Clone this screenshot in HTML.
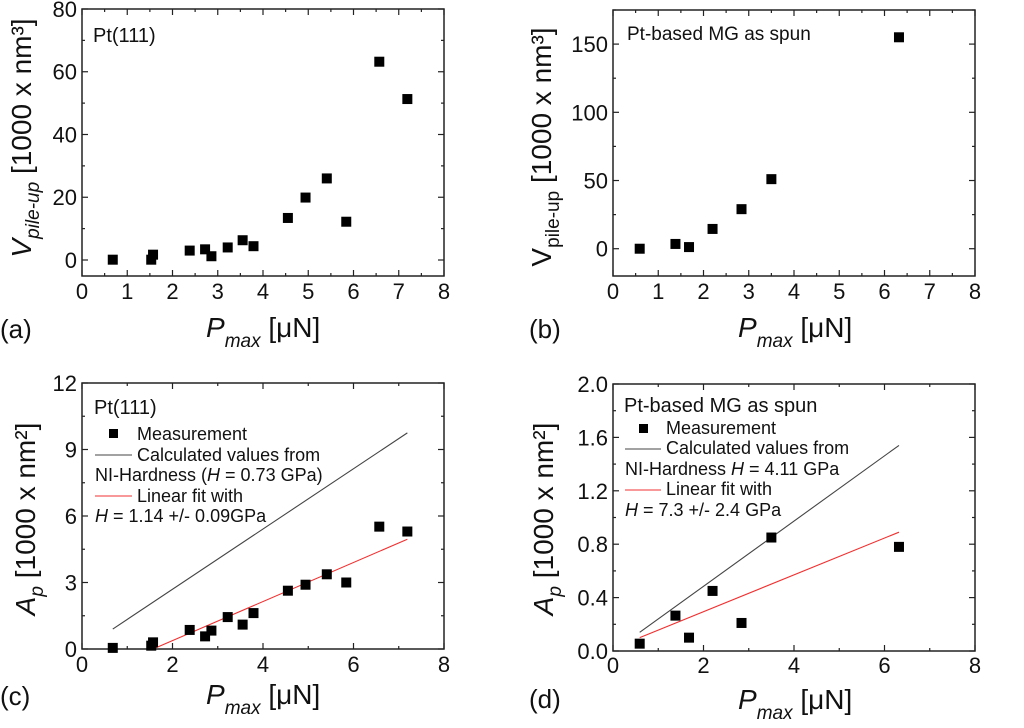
<!DOCTYPE html>
<html><head><meta charset="utf-8"><style>
body{margin:0;background:#fff}
svg{display:block;font-family:"Liberation Sans",sans-serif}
</style></head><body>
<svg id="s" width="1024" height="728" viewBox="0 0 1024 728"></svg>
<script>
// ---------- data ----------
const aX=[0.68,1.53,1.57,2.38,2.72,2.86,3.22,3.55,3.79,4.55,4.94,5.41,5.84,6.57,7.19];
const aY=[0.1,0.1,1.7,3.0,3.4,1.2,4.0,6.3,4.4,13.4,19.9,26.0,12.2,63.2,51.3];
const bX=[0.59,1.38,1.68,2.2,2.84,3.5,6.32];
const bY=[0,3.5,1.2,14.5,29,51,155];
const cX=[0.68,1.53,1.57,2.38,2.72,2.86,3.22,3.55,3.79,4.55,4.94,5.41,5.84,6.57,7.19];
const cY=[0.05,0.15,0.3,0.86,0.57,0.83,1.44,1.1,1.62,2.63,2.9,3.37,3.0,5.52,5.3];
const cCalcX=[0.68,7.19], cCalcY=[0.9,9.75];
const cFitX=[1.57,7.19], cFitY=[0,4.95];
const dX=[0.59,1.38,1.68,2.2,2.84,3.5,6.32];
const dY=[0.055,0.265,0.1,0.45,0.21,0.85,0.78];
const dCalcX=[0.59,6.32], dCalcY=[0.14,1.54];
const dFitX=[0.59,6.32], dFitY=[0.10,0.89];
const aTicksY=["0","20","40","60","80"], bTicksY=["0","50","100","150"];
const cTicksY=["0","3","6","9","12"], dTicksY=["0.0","0.4","0.8","1.2","1.6","2.0"];
const abTicksX=["0","1","2","3","4","5","6","7","8"], cdTicksX=["0","2","4","6","8"];

const NS="http://www.w3.org/2000/svg", S=document.getElementById('s');
function el(t,a,p){const e=document.createElementNS(NS,t);for(const k in a)e.setAttribute(k,a[k]);(p||S).appendChild(e);return e;}

function panel(o){
  const g=el('g',{});
  
  
  const sx=v=>o.L+(v-o.x0)/(o.x1-o.x0)*(o.R-o.L);
  const sy=v=>o.B-(v-o.y0)/(o.y1-o.y0)*(o.B-o.T);
  const fr=el('rect',{x:o.L,y:o.T,width:o.R-o.L,height:o.B-o.T,fill:'none',stroke:'#222','stroke-width':1.5},g);
  
  
  for(let v=o.x0;v<=o.x1+1e-9;v+=o.xm){
    const x=sx(v), maj=Math.abs(Math.round(v/o.xM)*o.xM-v)<1e-6, l=maj?6:3;
    el('line',{x1:x,x2:x,y1:o.B,y2:o.B-l,stroke:'#222','stroke-width':1.2},g);
    el('line',{x1:x,x2:x,y1:o.T,y2:o.T+l,stroke:'#222','stroke-width':1.2},g);
  }
  o.xt.forEach((t,i)=>{const v=o.x0+i*o.xM;
    const e=el('text',{x:sx(v),y:o.xtb,'font-size':22,'text-anchor':'middle',fill:'#111'},g);e.textContent=t;
    
    });
  for(let v=o.ys;v<=o.y1+1e-9;v+=o.ym){
    const y=sy(v), maj=Math.abs(Math.round((v-o.ys)/o.yM)*o.yM-(v-o.ys))<1e-6, l=maj?6:3;
    el('line',{x1:o.L,x2:o.L+l,y1:y,y2:y,stroke:'#222','stroke-width':1.2},g);
    el('line',{x1:o.R,x2:o.R-l,y1:y,y2:y,stroke:'#222','stroke-width':1.2},g);
  }
  o.yt.forEach((t,i)=>{const v=o.ys+i*o.yM;
    const e=el('text',{x:o.L-5,y:sy(v)+8,'font-size':22,'text-anchor':'end',fill:'#111'},g);e.textContent=t;
    
    });
  if(o.calcX){const l=el('line',{x1:sx(o.calcX[0]),y1:sy(o.calcY[0]),x2:sx(o.calcX[1]),y2:sy(o.calcY[1]),stroke:'#444','stroke-width':1.1},g);
    
    }
  if(o.fitX){const l=el('line',{x1:sx(o.fitX[0]),y1:sy(o.fitY[0]),x2:sx(o.fitX[1]),y2:sy(o.fitY[1]),stroke:'#f03030','stroke-width':1.1},g);
    
    }
  o.X.forEach((v,i)=>{const r=el('rect',{x:sx(v)-5,y:sy(o.Y[i])-5,width:10,height:10,fill:'#000'},g);
    
    });
}
panel({name:'panel-a',L:82,R:444,T:9,B:276,x0:0,x1:8,xM:1,xm:0.5,y0:-5.1,y1:80,ys:0,yM:20,ym:10,xt:abTicksX,yt:aTicksY,xtb:299,X:aX,Y:aY});
panel({name:'panel-b',L:613,R:975,T:10,B:276,x0:0,x1:8,xM:1,xm:0.5,y0:-20,y1:175,ys:0,yM:50,ym:25,xt:abTicksX,yt:bTicksY,xtb:299,X:bX,Y:bY});
panel({name:'panel-c',L:82,R:444,T:383,B:649,x0:0,x1:8,xM:2,xm:1,y0:0,y1:12,ys:0,yM:3,ym:1.5,xt:cdTicksX,yt:cTicksY,xtb:672,X:cX,Y:cY,calcX:cCalcX,calcY:cCalcY,fitX:cFitX,fitY:cFitY});
panel({name:'panel-d',L:613,R:975,T:384,B:651,x0:0,x1:8,xM:2,xm:1,y0:0,y1:2,ys:0,yM:0.4,ym:0.2,xt:cdTicksX,yt:dTicksY,xtb:673,X:dX,Y:dY,calcX:dCalcX,calcY:dCalcY,fitX:dFitX,fitY:dFitY});
</script>
<svg width="1024" height="728" style="position:absolute;left:0;top:0;font-family:'Liberation Sans',sans-serif">
<g fill="#111">
<text x="93" y="42" font-size="20">Pt(111)</text>
<text x="627" y="40" font-size="19">Pt-based MG as spun</text>
<text x="0" y="338" font-size="26">(a)</text>
<text x="529" y="338" font-size="26">(b)</text>
<text x="0" y="705" font-size="26">(c)</text>
<text x="529" y="708" font-size="26">(d)</text>
<text x="206" y="337" font-size="28"><tspan font-style="italic">P</tspan><tspan font-style="italic" font-size="19" dy="10">max</tspan><tspan dy="-10"> [μN]</tspan></text>
<text x="738" y="337" font-size="28"><tspan font-style="italic">P</tspan><tspan font-style="italic" font-size="19" dy="10">max</tspan><tspan dy="-10"> [μN]</tspan></text>
<text x="206" y="704" font-size="28"><tspan font-style="italic">P</tspan><tspan font-style="italic" font-size="19" dy="10">max</tspan><tspan dy="-10"> [μN]</tspan></text>
<text x="738" y="709" font-size="28"><tspan font-style="italic">P</tspan><tspan font-style="italic" font-size="19" dy="10">max</tspan><tspan dy="-10"> [μN]</tspan></text>
<text transform="translate(31,138) rotate(-90)" text-anchor="middle" font-size="28"><tspan font-style="italic">V</tspan><tspan font-style="italic" font-size="19" dy="8">pile-up</tspan><tspan dy="-8"> [1000 x nm³]</tspan></text>
<text transform="translate(551,147) rotate(-90)" text-anchor="middle" font-size="28"><tspan>V</tspan><tspan font-size="19" dy="8">pile-up</tspan><tspan dy="-8"> [1000 x nm³]</tspan></text>
<text transform="translate(35,519) rotate(-90)" text-anchor="middle" font-size="28"><tspan font-style="italic">A</tspan><tspan font-style="italic" font-size="19" dy="8">p</tspan><tspan dy="-8"> [1000 x nm²]</tspan></text>
<text transform="translate(553,519) rotate(-90)" text-anchor="middle" font-size="28"><tspan font-style="italic">A</tspan><tspan font-style="italic" font-size="19" dy="8">p</tspan><tspan dy="-8"> [1000 x nm²]</tspan></text>
</g>
<g fill="#111" font-size="18">
<text x="94" y="414" font-size="20">Pt(111)</text>
<rect x="109" y="429" width="9" height="9" fill="#000"/>
<text x="137" y="440">Measurement</text>
<line x1="95" y1="455" x2="132" y2="455" stroke="#444"/>
<text x="137" y="461">Calculated values from</text>
<text x="95" y="481">NI-Hardness (<tspan font-style="italic">H</tspan> = 0.73 GPa)</text>
<line x1="95" y1="496" x2="132" y2="496" stroke="#f03030"/>
<text x="137" y="502">Linear fit with</text>
<text x="95" y="522"><tspan font-style="italic">H</tspan> = 1.14 +/- 0.09GPa</text>
</g>
<g fill="#111" font-size="18">
<text x="624" y="412" font-size="20">Pt-based MG as spun</text>
<rect x="639" y="424" width="9" height="9" fill="#000"/>
<text x="666" y="434">Measurement</text>
<line x1="625" y1="449" x2="661" y2="449" stroke="#444"/>
<text x="666" y="454">Calculated values from</text>
<text x="625" y="475">NI-Hardness <tspan font-style="italic">H</tspan> = 4.11 GPa</text>
<line x1="625" y1="490" x2="661" y2="490" stroke="#f03030"/>
<text x="666" y="495">Linear fit with</text>
<text x="625" y="516"><tspan font-style="italic">H</tspan> = 7.3 +/- 2.4 GPa</text>
</g>
</svg>
</body></html>
